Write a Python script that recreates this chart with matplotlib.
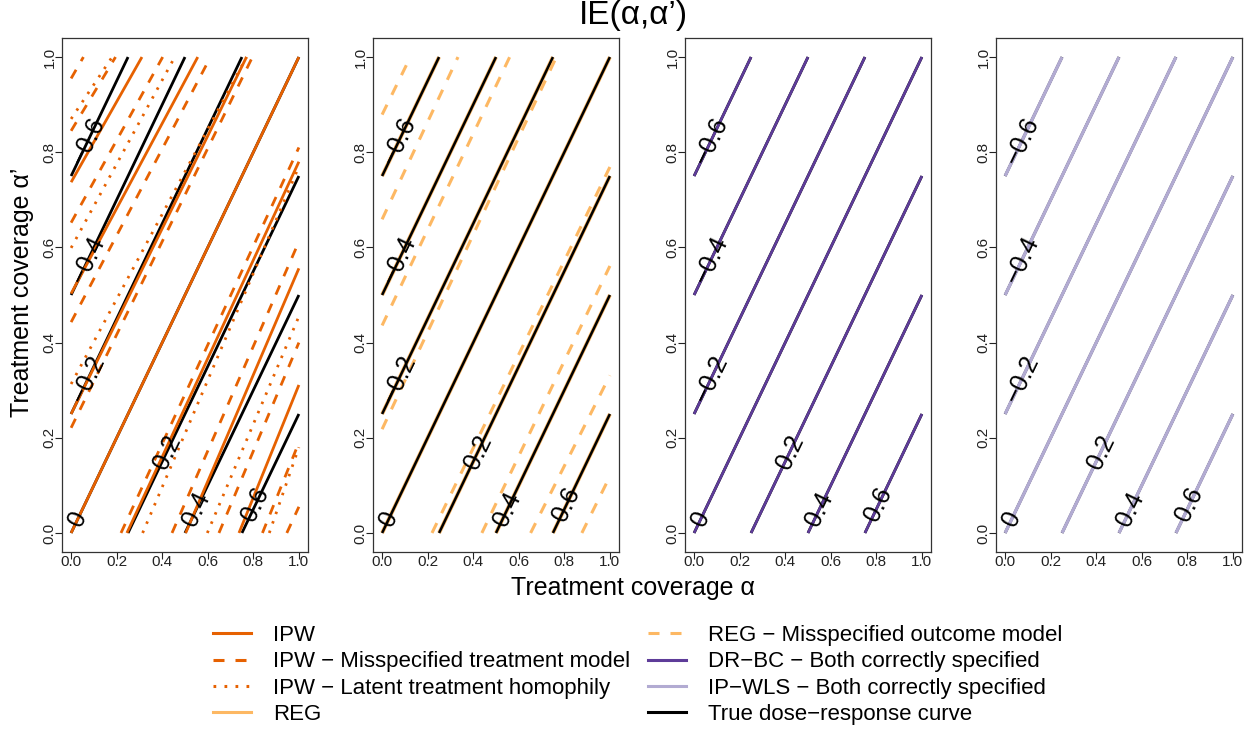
import matplotlib
matplotlib.use("Agg")
import matplotlib.pyplot as plt
from matplotlib.lines import Line2D

plt.rcParams['font.family'] = ['Liberation Sans', 'DejaVu Sans']

# contour segments, each (alpha0, alpha'0, alpha1, alpha'1)
true_curve = [(0, 0.75, 0.25, 1), (0, 0.5, 0.5, 1), (0, 0.25, 0.75, 1), (0, 0, 1, 1),
              (0.25, 0, 1, 0.75), (0.5, 0, 1, 0.5), (0.75, 0, 1, 0.25)]
true_levels = ["−0.6", "−0.4", "−0.2", "0", "0.2", "0.4", "0.6"]
label_pos = [(0.075, 0.825), (0.075, 0.575), (0.075, 0.325), (0.03, 0.03),
             (0.42, 0.17), (0.55, 0.05), (0.81, 0.06)]

ipw = [(0, 0.737, 0.311, 1), (0, 0.503, 0.556, 1), (0, 0.25, 0.77, 1), (0, 0, 1, 1),
       (0.245, 0, 1, 0.78), (0.503, 0, 1, 0.556), (0.737, 0, 1, 0.311)]
ipw_mis = [(0, 0.955, 0.054, 1), (0, 0.845, 0.195, 1), (0, 0.652, 0.402, 1),
           (0, 0.443, 0.612, 1), (0, 0.221, 0.796, 1),
           (0.219, 0, 1, 0.81), (0.443, 0, 1, 0.612), (0.649, 0, 1, 0.40),
           (0.84, 0, 1, 0.19), (0.947, 0, 1, 0.055)]
ipw_latent = [(0, 0.87, 0.18, 1), (0, 0.599, 0.455, 1), (0, 0.313, 0.77, 1),
              (0.314, 0, 1, 0.77), (0.598, 0, 1, 0.455), (0.87, 0, 1, 0.18)]
reg = list(true_curve)
reg_mis = [(0, 0.879, 0.124, 1), (0, 0.659, 0.333, 1), (0, 0.436, 0.56, 1),
           (0, 0.218, 0.765, 1),
           (0.219, 0, 1, 0.769), (0.438, 0, 1, 0.561), (0.652, 0, 1, 0.331),
           (0.877, 0, 1, 0.119)]
drbc = list(true_curve)
ipwls = list(true_curve)

ticks = [0, 0.2, 0.4, 0.6, 0.8, 1.0]
tick_labels = ["0.0", "0.2", "0.4", "0.6", "0.8", "1.0"]

c_ipw = '#E66101'
c_reg = '#FDB863'
c_drbc = '#5E3C99'
c_ipwls = '#B2ABD2'

dash = (3.6, 3.6)
dot = (0.9, 2.7)


def draw(ax, segs, color, lw, dashes=None, z=2):
    for a0, b0, a1, b1 in segs:
        ln, = ax.plot([a0, a1], [b0, b1], color=color, lw=lw, zorder=z,
                      solid_capstyle='butt', dash_capstyle='butt')
        if dashes is not None:
            ln.set_dashes(dashes)


fig = plt.figure(figsize=(12.55, 7.31), dpi=100)
lefts = [62, 373, 685, 996]
axes = []
for l in lefts:
    ax = fig.add_axes([l / 1255, 1 - 552 / 731, 246 / 1255, 514 / 731])
    ax.set_xlim(-0.04, 1.04)
    ax.set_ylim(-0.04, 1.04)
    ax.set_xticks(ticks)
    ax.set_xticklabels(tick_labels)
    ax.set_yticks(ticks)
    ax.set_yticklabels(tick_labels, rotation=90, va='center')
    ax.tick_params(direction='out', length=5, width=0.8, labelsize=11, colors='#222222')
    ax.tick_params(axis='x', pad=-3)
    ax.tick_params(axis='y', pad=-1)
    for s in ax.spines.values():
        s.set_linewidth(0.9)
        s.set_color('#333333')
    axes.append(ax)

# panel 1: IPW variants
draw(axes[0], true_curve, 'black', 2.0, z=2)
draw(axes[0], ipw, c_ipw, 2.0, z=3)
draw(axes[0], ipw_mis, c_ipw, 2.0, dash, z=3)
draw(axes[0], ipw_latent, c_ipw, 2.0, dot, z=3)
# panel 2: REG
draw(axes[1], reg, c_reg, 2.8, z=2)
draw(axes[1], true_curve, 'black', 1.8, z=3)
draw(axes[1], reg_mis, c_reg, 2.2, dash, z=3)
# panel 3: DR-BC
draw(axes[2], true_curve, 'black', 2.0, z=2)
draw(axes[2], drbc, c_drbc, 1.9, z=3)
# panel 4: IP-WLS
draw(axes[3], true_curve, 'black', 2.0, z=2)
draw(axes[3], ipwls, c_ipwls, 2.4, z=3)

for ax in axes:
    for txt, (a, b) in zip(true_levels, label_pos):
        ax.text(a, b, txt, rotation=64.3, ha='center', va='center',
                rotation_mode='anchor', fontsize=18, zorder=5)

fig.text(633 / 1255, 1 - 24 / 731, 'IE(α,α’)', ha='center', va='baseline', fontsize=24)
fig.text(633 / 1255, 1 - 588 / 731, 'Treatment coverage α', ha='center', va='center',
         fontsize=18)
fig.text(22 / 1255, 1 - 292 / 731, 'Treatment coverage α’', ha='center', va='center',
         rotation=90, fontsize=18)

handles = [
    Line2D([], [], color=c_ipw, lw=2.2),
    Line2D([], [], color=c_ipw, lw=2.2, dashes=dash),
    Line2D([], [], color=c_ipw, lw=2.2, dashes=dot),
    Line2D([], [], color=c_reg, lw=2.2),
    Line2D([], [], color=c_reg, lw=2.2, dashes=dash),
    Line2D([], [], color=c_drbc, lw=2.2),
    Line2D([], [], color=c_ipwls, lw=2.2),
    Line2D([], [], color='black', lw=2.2),
]
labels = ["IPW", "IPW − Misspecified treatment model", "IPW − Latent treatment homophily",
          "REG", "REG − Misspecified outcome model", "DR−BC − Both correctly specified",
          "IP−WLS − Both correctly specified", "True dose−response curve"]
fig.legend(handles, labels, ncol=2, loc='upper left',
           bbox_to_anchor=(213 / 1255, 1 - 625 / 731), frameon=False, fontsize=16,
           handlelength=1.7, handletextpad=1.0, columnspacing=0.8, labelspacing=0.24,
           borderpad=0, borderaxespad=0)

fig.savefig('out.png', dpi=100)
